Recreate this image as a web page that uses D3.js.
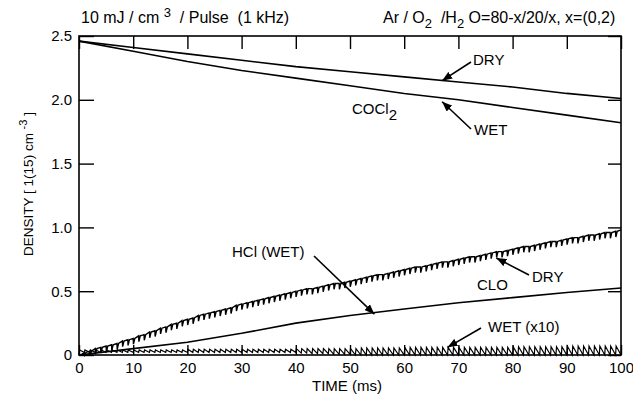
<!DOCTYPE html>
<html>
<head>
<meta charset="utf-8">
<script src="https://cdn.jsdelivr.net/npm/d3@7/dist/d3.min.js"></script>
<style>
body { margin: 0; background: #fff; }
svg text { font-family: "Liberation Sans", Arial, Helvetica, sans-serif; fill: #000; }
</style>
</head>
<body>
<svg id="chart" width="633" height="396"></svg>
<script>
// ---- data ----
var timeTicks = [0, 10, 20, 30, 40, 50, 60, 70, 80, 90, 100];
var densityTicks = [0, 0.5, 1.0, 1.5, 2.0, 2.5];
var densityLabels = ["0", "0.5", "1.0", "1.5", "2.0", "2.5"];

// smooth curves, sampled every 10 ms
var coarseTime = [0, 10, 20, 30, 40, 50, 60, 70, 80, 90, 100];
var cocl2Dry = [2.46, 2.41, 2.36, 2.31, 2.26, 2.22, 2.18, 2.14, 2.10, 2.05, 2.01];
var cocl2Wet = [2.46, 2.38, 2.30, 2.23, 2.17, 2.11, 2.05, 2.00, 1.94, 1.88, 1.82];
var hclWet   = [0.00, 0.05, 0.10, 0.17, 0.25, 0.31, 0.36, 0.41, 0.45, 0.49, 0.525];

// pulsed curves, one value per pulse (1 kHz -> every 1 ms)
var pulseTime = d3.range(0, 101);
var hclDry = [
  0, .02, .03, .05, .06, .07, .08, .09, .11, .12, .13,
  .15, .16, .18, .19, .21, .22, .24, .25, .27, .28,
  .29, .31, .32, .33, .34, .35, .36, .37, .39, .40,
  .41, .42, .43, .44, .45, .46, .47, .48, .49, .50,
  .51, .52, .52, .53, .54, .55, .56, .56, .57, .58,
  .59, .60, .61, .62, .63, .63, .64, .65, .66, .67,
  .68, .69, .69, .70, .71, .72, .73, .73, .74, .75,
  .76, .77, .77, .78, .79, .80, .81, .81, .82, .83,
  .84, .85, .85, .86, .87, .88, .89, .89, .90, .91,
  .92, .92, .93, .94, .94, .95, .96, .96, .97, .98
];
var hclDryDip = 0.045;
var wetPeak = [
  0, .04, .04, .04, .04, .04, .04, .04, .04, .04, .04,
  .04, .04, .04, .04, .04, .04, .04, .04, .04, .04,
  .045, .045, .045, .045, .045, .045, .045, .045, .045, .045,
  .045, .045, .045, .045, .045, .045, .045, .045, .045, .045,
  .05, .05, .05, .05, .05, .05, .05, .05, .05, .05,
  .05, .05, .055, .055, .055, .055, .055, .055, .055, .055,
  .06, .06, .06, .06, .06, .06, .06, .06, .06, .06,
  .06, .06, .06, .06, .06, .06, .06, .06, .06, .06,
  .065, .065, .065, .065, .065, .065, .065, .065, .065, .065,
  .07, .07, .07, .07, .07, .07, .07, .07, .07, .07
];
var wetLow = [
  0, .02, .02, .02, .02, .02, .02, .02, .02, .02, .02,
  .02, .02, .02, .02, .02, .02, .02, .02, .02, .02,
  .02, .02, .02, .02, .02, .02, .02, .02, .02, .02,
  .02, .02, .02, .02, .02, .02, .02, .02, .02, .02,
  .015, .015, .01, .01, .01, .01, .005, .005, .005, .005,
  0, 0, 0, 0, 0, 0, 0, 0, 0, 0,
  0, 0, 0, 0, 0, 0, 0, 0, 0, 0,
  0, 0, 0, 0, 0, 0, 0, 0, 0, 0,
  0, 0, 0, 0, 0, 0, 0, 0, 0, 0,
  0, 0, 0, 0, 0, 0, 0, 0, 0, 0
];

// ---- layout ----
var frame = { left: 79, right: 621, top: 36, bottom: 355 };
var fontSize = 15;

var svg = d3.select('#chart');

var x = d3.scaleLinear().domain([0, 100]).range([frame.left, frame.right]);
var y = d3.scaleLinear().domain([0, 2.5]).range([frame.bottom, frame.top]);

svg.append('defs').append('marker')
	.attr('id', 'head')
	.attr('viewBox', '0 0 10 8')
	.attr('refX', 10)
	.attr('refY', 4)
	.attr('markerWidth', 10)
	.attr('markerHeight', 8)
	.attr('markerUnits', 'userSpaceOnUse')
	.attr('orient', 'auto')
	.append('path')
	.attr('d', 'M0,0 L10,4 L0,8 Z')
	.attr('fill', '#000');

// axes, all ticks pointing inwards
svg.append('g')
	.attr('transform', 'translate(0,' + frame.bottom + ')')
	.call(d3.axisBottom(x).tickValues(timeTicks).tickSizeInner(-10).tickSizeOuter(0).tickPadding(7));
svg.append('g')
	.attr('transform', 'translate(' + frame.left + ',0)')
	.call(d3.axisLeft(y).tickValues(densityTicks).tickFormat(function(d, i) { return densityLabels[i]; })
		.tickSizeInner(-15).tickSizeOuter(0).tickPadding(7));
svg.append('g')
	.attr('transform', 'translate(0,' + frame.top + ')')
	.call(d3.axisTop(x).tickValues(timeTicks).tickSizeInner(-13).tickSizeOuter(0).tickFormat(''));
svg.append('g')
	.attr('transform', 'translate(' + frame.right + ',0)')
	.call(d3.axisRight(y).tickValues(densityTicks).tickSizeInner(-13).tickSizeOuter(0).tickFormat(''));

svg.selectAll('.domain').remove();
svg.selectAll('.tick line').attr('stroke', '#000').attr('stroke-width', 1.4);
svg.selectAll('.tick text')
	.attr('font-size', fontSize + 'px')
	.attr('font-family', '"Liberation Sans", Arial, sans-serif')
	.attr('fill', '#000');

svg.append('rect')
	.attr('x', frame.left)
	.attr('y', frame.top)
	.attr('width', frame.right - frame.left)
	.attr('height', frame.bottom - frame.top)
	.attr('fill', 'none')
	.attr('stroke', '#000')
	.attr('stroke-width', 1.6);

// smooth curves
var line = d3.line()
	.x(function(d) { return x(d[0]); })
	.y(function(d) { return y(d[1]); });

[cocl2Dry, cocl2Wet, hclWet].forEach(function(series) {
	svg.append('path')
		.datum(coarseTime.map(function(t, i) { return [t, series[i]]; }))
		.attr('d', line)
		.attr('fill', 'none')
		.attr('stroke', '#000')
		.attr('stroke-width', 1.6);
});

// pulsed HCl (dry): a short dip at every pulse
var combPts = [];
pulseTime.forEach(function(t, i) {
	combPts.push([t, hclDry[i]]);
	if (i < pulseTime.length - 1) {
		combPts.push([t + 0.05, Math.max(0, hclDry[i] - hclDryDip)]);
		combPts.push([t + 0.3, hclDry[i]]);
	}
});
svg.append('path')
	.datum(combPts)
	.attr('d', line)
	.attr('fill', 'none')
	.attr('stroke', '#000')
	.attr('stroke-width', 1.4);

// pulsed wet (x10): saw tooth
var sawPts = [];
pulseTime.forEach(function(t, i) {
	sawPts.push([t, wetLow[i]]);
	if (i < pulseTime.length - 1) {
		sawPts.push([t + 0.1, wetPeak[i + 1]]);
	}
});
svg.append('path')
	.datum(sawPts)
	.attr('d', line)
	.attr('fill', 'none')
	.attr('stroke', '#000')
	.attr('stroke-width', 1.2);

// annotations
function label(px, py, parts, size) {
	var t = svg.append('text')
		.attr('x', px)
		.attr('y', py)
		.attr('font-size', (size || fontSize) + 'px')
		.attr('xml:space', 'preserve');
	parts.forEach(function(p) {
		var s = t.append('tspan').text(p.text);
		if (p.dy) s.attr('dy', p.dy);
		if (p.size) s.attr('font-size', p.size);
	});
	return t;
}
function arrow(x1, y1, x2, y2) {
	svg.append('line')
		.attr('x1', x1).attr('y1', y1)
		.attr('x2', x2).attr('y2', y2)
		.attr('stroke', '#000')
		.attr('stroke-width', 1.6)
		.attr('marker-end', 'url(#head)');
}

label(81, 23, [{ text: '10 mJ / cm ' }, { text: '3', dy: -6, size: '13px' }, { text: '  / Pulse  (1 kHz)', dy: 6 }], 16);
label(383, 23, [{ text: 'Ar / O' }, { text: '2', dy: 5, size: '13px' }, { text: '  /H', dy: -5 },
	{ text: '2', dy: 5, size: '13px' }, { text: ' O=80-x/20/x, x=(0,2)', dy: -5 }], 16);

label(473, 65, [{ text: 'DRY' }]);
arrow(471, 62, x(67), y(2.15));
label(352, 114, [{ text: 'COCl' }, { text: '2', dy: 6, size: '15px' }]);
label(474, 135, [{ text: 'WET' }]);
arrow(471, 129, x(67), y(1.985));

label(232, 257, [{ text: 'HCl (WET)' }]);
arrow(314, 256, x(54.5), y(0.32));
label(532, 282, [{ text: 'DRY' }]);
arrow(529, 275, x(77), y(0.76));
label(477, 290, [{ text: 'CLO' }]);
label(488, 332, [{ text: 'WET (x10)' }]);
arrow(481, 328, x(68), y(0.06));

// axis titles
svg.append('text')
	.attr('x', 347)
	.attr('y', 391)
	.attr('text-anchor', 'middle')
	.attr('font-size', fontSize + 'px')
	.text('TIME (ms)');

var yTitle = svg.append('text')
	.attr('transform', 'translate(33,184) rotate(-90)')
	.attr('text-anchor', 'middle')
	.attr('font-size', '13.5px')
	.attr('xml:space', 'preserve');
yTitle.append('tspan').text('DENSITY [ 1(15) cm ');
yTitle.append('tspan').attr('dy', -6).attr('font-size', '11px').text('-3');
yTitle.append('tspan').attr('dy', 6).text(' ]');
</script>
</body>
</html>
